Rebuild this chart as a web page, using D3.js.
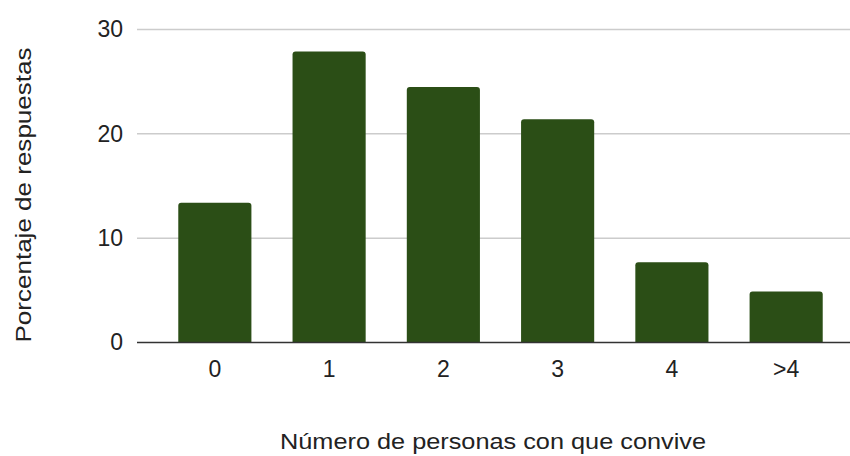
<!DOCTYPE html>
<html><head><meta charset="utf-8">
<script src="https://cdn.jsdelivr.net/npm/d3@7"></script>
<style>body{margin:0;background:#fff}svg{display:block}text{font-family:"Liberation Sans",Arial,sans-serif;fill:#222}</style>
</head><body><svg id="c" width="850" height="456"></svg>
<script>
const categories = ["0","1","2","3","4",">4"];
const values = [13.4, 27.9, 24.5, 21.4, 7.7, 4.9];
const yTicks = [0,10,20,30];
const xTitle = "Número de personas con que convive";
const yTitle = "Porcentaje de respuestas";

const svg = d3.select("#c");
const L = 137, R = 850, T = 29.5, B = 342.5;
const x = d3.scaleBand().domain(categories).range([L + 7, R + 7]).paddingInner(0.36).paddingOuter(0.3);
const y = d3.scaleLinear().domain([0,30]).range([B, T]);

svg.append("g").selectAll("line").data(yTicks.filter(d=>d>0)).join("line")
  .attr("x1", L).attr("x2", R).attr("y1", d=>y(d)).attr("y2", d=>y(d))
  .attr("stroke", "#cccccc").attr("stroke-width", 1.5);

const r = 3;
svg.append("g").selectAll("path").data(values).join("path")
  .attr("fill", "#2b4e16")
  .attr("d", (d,i) => {
    const x0 = x(categories[i]), w = x.bandwidth(), y0 = y(d), yb = y(0);
    return `M${x0},${yb}V${y0+r}Q${x0},${y0} ${x0+r},${y0}H${x0+w-r}Q${x0+w},${y0} ${x0+w},${y0+r}V${yb}Z`;
  });

svg.append("line").attr("x1", L).attr("x2", R).attr("y1", y(0)).attr("y2", y(0))
  .attr("stroke", "#333").attr("stroke-width", 1.5);

const fs = 23;
const yAxis = d3.axisLeft(y).tickValues(yTicks).tickSize(0).tickPadding(0);
const gy = svg.append("g").attr("transform", `translate(${L-14},0)`).call(yAxis);
gy.select(".domain").remove();
gy.selectAll("text").attr("font-size", fs).style("font-family", '"Liberation Sans",Arial,sans-serif').attr("fill", "#222");

const xAxis = d3.axisBottom(x).tickSize(0).tickPadding(0);
const gx = svg.append("g").attr("transform", `translate(0,${B+18})`).call(xAxis);
gx.select(".domain").remove();
gx.selectAll("text").attr("font-size", fs).style("font-family", '"Liberation Sans",Arial,sans-serif').attr("fill", "#222");

svg.append("text").attr("x", 493).attr("y", 449).attr("text-anchor", "middle")
  .attr("font-size", 22).attr("textLength", 426).attr("lengthAdjust", "spacingAndGlyphs").text(xTitle);
svg.append("text").attr("transform", "translate(31,195) rotate(-90)").attr("text-anchor", "middle")
  .attr("font-size", 22).attr("textLength", 295).attr("lengthAdjust", "spacingAndGlyphs").text(yTitle);
</script></body></html>
